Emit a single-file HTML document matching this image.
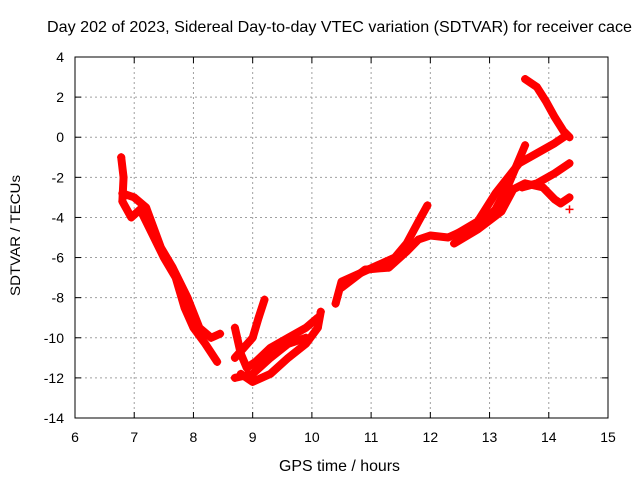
<!DOCTYPE html>
<html><head><meta charset="utf-8"><style>
body{margin:0;background:#fff}
svg{display:block;font-family:"Liberation Sans",sans-serif}
</style></head><body>
<svg id="chart" width="640" height="480">
<text x="47" y="32" font-size="16" textLength="585" lengthAdjust="spacingAndGlyphs">Day 202 of 2023, Sidereal Day-to-day VTEC variation (SDTVAR) for receiver cace</text>
<text x="279" y="471" font-size="16" textLength="121" lengthAdjust="spacingAndGlyphs">GPS time / hours</text>
<text transform="translate(20,296) rotate(-90)" font-size="14" textLength="121" lengthAdjust="spacingAndGlyphs">SDTVAR / TECUs</text>
<g id="grid"></g><g id="ticks"></g><g id="marks"></g>
<rect x="75" y="57" width="533" height="361" fill="none" stroke="#000"/>
</svg>
<script>
const xTicks=[6,7,8,9,10,11,12,13,14,15];
const yTicks=[4,2,0,-2,-4,-6,-8,-10,-12,-14];
const trackA=[[6.78,-1.0],[6.82,-2.0],[6.8,-3.2],[6.95,-4.0],[7.1,-3.6],[7.3,-4.8],[7.5,-6.0],[7.7,-7.0],[7.85,-8.5],[8.0,-9.5],[8.2,-10.3],[8.4,-11.2]];
const trackB=[[6.8,-2.8],[7.0,-3.0],[7.2,-3.5],[7.45,-5.5],[7.65,-6.5],[7.9,-8.0],[8.1,-9.5],[8.3,-10.0],[8.45,-9.8]];
const trackC=[[8.7,-9.5],[8.8,-10.8],[8.9,-11.5],[9.05,-11.2],[9.3,-10.5],[9.6,-10.0],[9.9,-9.5],[10.1,-9.0]];
const trackD=[[8.8,-11.8],[9.0,-12.2],[9.3,-11.8],[9.6,-11.0],[9.9,-10.3],[10.1,-9.5],[10.15,-8.7]];
const trackE=[[8.7,-11.0],[8.85,-10.5],[9.0,-10.0],[9.1,-9.0],[9.2,-8.1]];
const trackF=[[8.7,-12.0],[9.0,-11.8],[9.3,-11.0],[9.6,-10.3],[9.9,-10.0]];
const trackG=[[10.4,-8.3],[10.5,-7.2],[10.8,-6.8],[11.1,-6.4],[11.4,-6.0],[11.6,-5.3],[11.8,-4.2],[11.95,-3.4]];
const trackH=[[10.5,-7.5],[10.9,-6.6],[11.3,-6.5],[11.6,-5.7],[11.8,-5.1],[12.0,-4.9],[12.3,-5.0],[12.6,-4.6],[12.9,-4.2],[13.1,-3.6],[13.3,-2.5],[13.6,-0.4]];
const trackI=[[12.4,-4.9],[12.8,-4.2],[13.1,-2.8],[13.5,-1.3],[13.8,-0.8],[14.1,-0.3],[14.3,0.1]];
const trackTop=[[13.6,2.9],[13.8,2.5],[13.95,1.8],[14.1,1.0],[14.25,0.3],[14.35,0.0]];
const trackJ=[[12.4,-5.3],[12.8,-4.6],[13.2,-3.7],[13.4,-2.6],[13.6,-2.3],[13.9,-2.5],[14.1,-3.1],[14.2,-3.3],[14.35,-3.0]];
const trackK=[[13.55,-2.5],[13.8,-2.3],[14.1,-1.8],[14.35,-1.3]];
const trackL=[[14.35,-3.6]];
const tracks=[trackA,trackB,trackC,trackD,trackE,trackF,trackG,trackH,trackI,trackTop,trackJ,trackK,trackL];
const NS='http://www.w3.org/2000/svg';
const X=h=>75+(h-6)*(533/9);
const Y=v=>57+(4-v)*(361/18);
const grid=document.getElementById('grid'),ticks=document.getElementById('ticks'),marks=document.getElementById('marks');
function mk(t,a,p){const e=document.createElementNS(NS,t);for(const k in a)e.setAttribute(k,a[k]);p.appendChild(e);return e;}
xTicks.forEach(t=>{const x=X(t);
 if(t>6&&t<15){const g=mk('line',{x1:x,y1:57,x2:x,y2:418,stroke:'#a0a0a0','stroke-dasharray':'2,3'},grid);
 
 }
 const l=mk('text',{x:x,y:442,'font-size':14,'text-anchor':'middle'},ticks);l.textContent=t;
 
 
 mk('line',{x1:x,y1:418,x2:x,y2:412,stroke:'#000'},ticks);mk('line',{x1:x,y1:57,x2:x,y2:63,stroke:'#000'},ticks);});
yTicks.forEach(t=>{const y=Y(t);
 if(t<4&&t>-14){const g=mk('line',{x1:75,y1:y,x2:608,y2:y,stroke:'#a0a0a0','stroke-dasharray':'2,3'},grid);
 
 }
 const l=mk('text',{x:64,y:y+5,'font-size':14,'text-anchor':'end'},ticks);l.textContent=t;
 
 
 mk('line',{x1:75,y1:y,x2:81,y2:y,stroke:'#000'},ticks);mk('line',{x1:608,y1:y,x2:602,y2:y,stroke:'#000'},ticks);});
tracks.forEach(tr=>{
 const pts=tr.map(p=>X(p[0])+','+Y(p[1])).join(' ');
 const pl=mk('polyline',{points:pts,fill:'none',stroke:'#ff0000','stroke-width':8,'stroke-linejoin':'round','stroke-linecap':'round'},marks);
 
 
 tr.forEach(p=>{const x=X(p[0]),y=Y(p[1]);
  const m=mk('path',{d:`M${x-4},${y}H${x+4}M${x},${y-4}V${y+4}`,stroke:'#ff0000','stroke-width':1.5},marks);
  
  });
});
</script>
</body></html>
